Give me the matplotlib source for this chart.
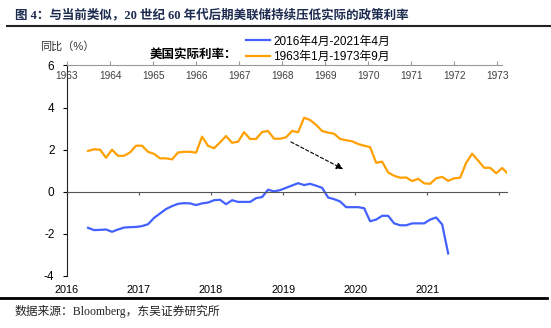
import numpy as np
import matplotlib
matplotlib.use("Agg")
from matplotlib import pyplot as plt
from matplotlib.lines import Line2D

plt.rcParams['font.family'] = ['Liberation Sans', 'Noto Sans CJK SC']
plt.rcParams['axes.unicode_minus'] = False

# data: monthly real rate, both series drawn on the same month grid
blue_label = "2016年4月-2021年4月"
orange_label = "1963年1月-1973年9月"
blue_start = 3  # Apr 2016, months since Jan 2016
blue_vals = [-1.71, -1.82, -1.81, -1.79, -1.90, -1.79, -1.70, -1.68, -1.67, -1.63,
             -1.54, -1.24, -1.03, -0.82, -0.68, -0.57, -0.54, -0.55, -0.63, -0.55,
             -0.51, -0.40, -0.38, -0.59, -0.40, -0.48, -0.48, -0.48, -0.30, -0.25,
             0.10, 0.02, 0.08, 0.19, 0.30, 0.41, 0.32, 0.38, 0.29, 0.19,
             -0.27, -0.35, -0.46, -0.73, -0.73, -0.73, -0.78, -1.40, -1.32, -1.14,
             -1.14, -1.50, -1.59, -1.59, -1.50, -1.50, -1.50, -1.32, -1.22, -1.55,
             -2.93]
orange_vals = [1.94, 2.02, 2.00, 1.62, 2.00, 1.71, 1.71, 1.87, 2.19, 2.19,
               1.90, 1.80, 1.59, 1.59, 1.54, 1.87, 1.90, 1.90, 1.86, 2.62,
               2.18, 2.07, 2.35, 2.65, 2.33, 2.38, 2.83, 2.51, 2.51, 2.84,
               2.89, 2.52, 2.52, 2.59, 2.89, 2.83, 3.52, 3.41, 3.18, 2.89,
               2.81, 2.76, 2.51, 2.45, 2.40, 2.27, 2.19, 2.12, 1.38, 1.43,
               0.92, 0.76, 0.67, 0.68, 0.51, 0.62, 0.40, 0.38, 0.64, 0.71,
               0.52, 0.64, 0.67, 1.38, 1.81, 1.48, 1.14, 1.14, 0.88, 1.13,
               0.84]
bottom_years = [2016, 2017, 2018, 2019, 2020, 2021, 2022]
top_years = list(range(1963, 1974))

blue_x = blue_start + 0.5 + np.arange(len(blue_vals))
orange_x = blue_start + 0.5 + np.arange(len(orange_vals))

fig = plt.figure(figsize=(5.51, 3.28), dpi=100)
ax = fig.add_axes([67/551, 1-276/328, 440/551, 210.5/328])

l1, = ax.plot(blue_x, blue_vals, color='#4361ff', lw=1.6)
l2, = ax.plot(orange_x, orange_vals, color='#ffa000', lw=1.6)

ax.set_xlim(0, 73.3)
ax.set_ylim(-4, 6)
ax.set_yticks([-4, -2, 0, 2, 4, 6])
ax.set_xticks([12 * i for i in range(len(bottom_years))])
ax.set_xticklabels([str(y) if y < 2022 else '' for y in bottom_years])
ax.spines['bottom'].set_position(('data', 0))
ax.spines['bottom'].set_color('#555555')
ax.spines['top'].set_visible(False)
ax.spines['right'].set_visible(False)
ax.spines['left'].set_color('#222222')
ax.tick_params(axis='x', direction='out', length=2.5, pad=64.5, labelsize=7.8, colors='#555555', labelcolor='black')
ax.tick_params(axis='y', direction='out', length=3, labelsize=8.5, pad=6)

# top axis for the 1960s
ax2 = ax.twiny()
ax2.set_xlim(1963, 1963 + 440/43.05)
ax2.set_xticks(top_years)
ax2.set_xticklabels([str(y) for y in top_years])
for s in ['bottom', 'left', 'right']:
    ax2.spines[s].set_visible(False)
ax2.spines['top'].set_color('#999999')
ax2.spines['top'].set_bounds(1963, 1973.1)
ax2.tick_params(axis='x', direction='out', length=3, pad=-14.5, labelsize=7.3, colors='#999999', labelcolor='#404040')

# dashed arrow
ax.annotate('', xy=(46.0, 1.08), xytext=(37.3, 2.37),
            arrowprops=dict(arrowstyle='-|>', linestyle=(0, (3, 2)), color='black', lw=0.8,
                            mutation_scale=10, shrinkA=0, shrinkB=0))

# texts
fig.text(15/551, 1-15/328, '图 4：与当前类似，20 世纪 60 年代后期美联储持续压低实际的政策利率',
         family=['Liberation Serif', 'Noto Sans CJK SC'], weight='bold', fontsize=9,
         color='#1c2b4f', va='center', ha='left')
fig.add_artist(Line2D([7/551, 1], [1-26/328, 1-26/328], color='#222222', lw=1.5))
fig.add_artist(Line2D([0, 547/551], [1-298/328, 1-298/328], color='black', lw=2))
fig.text(15/551, 1-311/328, '数据来源：Bloomberg，东吴证券研究所',
         family=['Liberation Serif', 'Noto Sans CJK SC'], fontsize=8.5, color='#222222',
         va='center', ha='left')
fig.text(40/551, 1-46/328, '同比（%）', fontsize=8, color='#333333', va='center', ha='left')
fig.text(150/551, 1-56/328, '美国实际利率：', fontsize=9, weight='bold', va='center', ha='left')

fig.legend([l1, l2], [blue_label, orange_label], loc='upper left',
           bbox_to_anchor=(246/551, 1-35.5/328), frameon=False, fontsize=8.5,
           handlelength=2.0, handletextpad=0.3, labelspacing=0.3,
           borderpad=0, borderaxespad=0)

fig.savefig('out.png', dpi=100)
